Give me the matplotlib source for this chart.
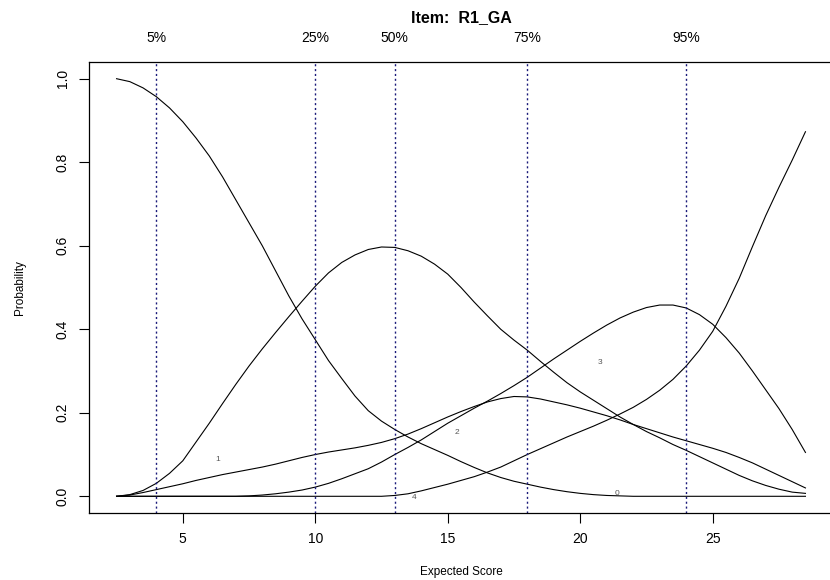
import numpy as np
import matplotlib.pyplot as plt
from matplotlib import transforms

plt.rcParams['font.family'] = ['Liberation Sans', 'DejaVu Sans']

# expected score grid (half-point steps) and option response curves
score = [2.5, 3, 3.5, 4, 4.5, 5, 5.5, 6, 6.5, 7, 7.5, 8, 8.5, 9, 9.5, 10, 10.5,
         11, 11.5, 12, 12.5, 13, 13.5, 14, 14.5, 15, 15.5, 16, 16.5, 17, 17.5,
         18, 18.5, 19, 19.5, 20, 20.5, 21, 21.5, 22, 22.5, 23, 23.5, 24, 24.5,
         25, 25.5, 26, 26.5, 27, 27.5, 28, 28.5]
p0 = [1.0, 0.993, 0.978, 0.957, 0.93, 0.897, 0.858, 0.815, 0.765, 0.71, 0.655,
      0.6, 0.54, 0.48, 0.425, 0.375, 0.325, 0.282, 0.24, 0.205, 0.18, 0.16,
      0.142, 0.126, 0.112, 0.098, 0.083, 0.069, 0.056, 0.045, 0.036, 0.029,
      0.022, 0.016, 0.011, 0.007, 0.004, 0.002, 0.001, 0, 0, 0, 0, 0, 0, 0, 0,
      0, 0, 0, 0, 0, 0]
p1 = [0, 0.004, 0.014, 0.031, 0.055, 0.085, 0.13, 0.175, 0.222, 0.268, 0.312,
      0.353, 0.392, 0.43, 0.467, 0.503, 0.535, 0.56, 0.578, 0.591, 0.597, 0.596,
      0.588, 0.575, 0.556, 0.532, 0.5, 0.465, 0.432, 0.40, 0.374, 0.35, 0.323,
      0.297, 0.272, 0.25, 0.23, 0.21, 0.19, 0.172, 0.155, 0.14, 0.124, 0.11,
      0.095, 0.08, 0.065, 0.05, 0.037, 0.026, 0.017, 0.01, 0.007]
p2 = [0, 0.003, 0.009, 0.016, 0.023, 0.03, 0.038, 0.045, 0.052, 0.058, 0.064,
      0.07, 0.077, 0.085, 0.093, 0.1, 0.106, 0.111, 0.116, 0.122, 0.129, 0.138,
      0.149, 0.162, 0.176, 0.19, 0.203, 0.215, 0.226, 0.234, 0.239, 0.238,
      0.233, 0.226, 0.219, 0.211, 0.202, 0.193, 0.183, 0.172, 0.162, 0.152,
      0.142, 0.133, 0.124, 0.115, 0.105, 0.093, 0.08, 0.065, 0.05, 0.035, 0.02]
p3 = [0, 0, 0, 0, 0, 0, 0, 0, 0, 0, 0.001, 0.003, 0.006, 0.01, 0.015, 0.022,
      0.031, 0.042, 0.054, 0.066, 0.082, 0.1, 0.117, 0.135, 0.155, 0.175, 0.193,
      0.211, 0.228, 0.246, 0.265, 0.285, 0.307, 0.329, 0.35, 0.371, 0.391, 0.41,
      0.427, 0.441, 0.452, 0.458, 0.458, 0.451, 0.435, 0.412, 0.38, 0.343, 0.3,
      0.255, 0.21, 0.16, 0.105]
p4 = [0, 0, 0, 0, 0, 0, 0, 0, 0, 0, 0, 0, 0, 0, 0, 0, 0, 0, 0, 0, 0, 0.002,
      0.006, 0.013, 0.021, 0.029, 0.038, 0.047, 0.058, 0.07, 0.085, 0.1, 0.114,
      0.128, 0.142, 0.155, 0.168, 0.182, 0.197, 0.213, 0.232, 0.254, 0.28,
      0.312, 0.35, 0.395, 0.455, 0.522, 0.598, 0.672, 0.74, 0.805, 0.873]
curves = [p0, p1, p2, p3, p4]

# where each option number is written
label_x = [21.37, 6.3, 15.36, 20.73, 13.74]
label_y = [0.007, 0.089, 0.153, 0.32, -0.003]

# score percentiles
pct_x = [4, 10, 13, 18, 24]
pct_lab = ['5%', '25%', '50%', '75%', '95%']

fig = plt.figure(figsize=(8.3, 5.8), dpi=100)
ax = fig.add_axes([89/830, 67/580, 744/830, 451/580])

for p in curves:
    ax.plot(score, p, color='black', lw=0.8)
for i in range(len(curves)):
    ax.text(label_x[i], label_y[i], str(i), fontsize=6, color='#555555',
            ha='center', va='center')

for xv in pct_x:
    ax.axvline(xv, color='#1a1a7a', lw=1.0, ls=(0, (1.5, 2)))

trans = transforms.blended_transform_factory(ax.transData, ax.transAxes)
for xv, lab in zip(pct_x, pct_lab):
    ax.text(xv, 1.0 + 24/451, lab, transform=trans, fontsize=10,
            ha='center', va='center')

ax.text(0.5, 1.0 + 44/451, 'Item:  R1_GA', transform=ax.transAxes,
        fontsize=11.5, fontweight='bold', ha='center', va='center')

ax.set_xlim(2.5 - 0.04*26, 28.5 + 0.04*26)
ax.set_ylim(-0.04, 1.04)
ax.set_xticks([5, 10, 15, 20, 25])
ax.set_yticks([0.0, 0.2, 0.4, 0.6, 0.8, 1.0])
ax.set_yticklabels(['0.0', '0.2', '0.4', '0.6', '0.8', '1.0'], rotation=90, va='center')
ax.tick_params(length=7, width=0.8, labelsize=10)
ax.tick_params(axis='x', pad=7)
ax.tick_params(axis='y', pad=7)
for s in ax.spines.values():
    s.set_linewidth(0.9)

ax.set_xlabel('Expected Score', fontsize=8.5, labelpad=14)
ax.set_ylabel('Probability', fontsize=8.5, labelpad=21)

fig.savefig('out.png', dpi=100)
